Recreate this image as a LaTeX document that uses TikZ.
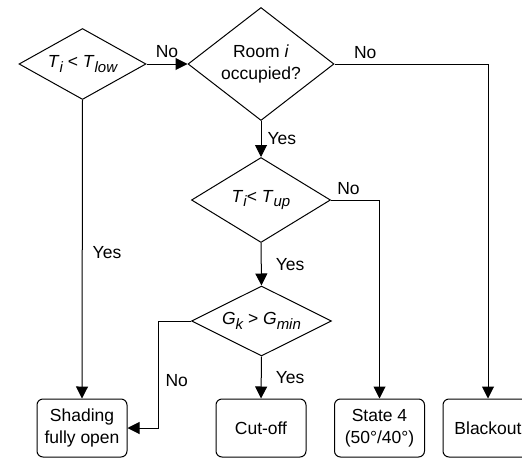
\documentclass[tikz,border=0pt]{standalone}
\usepackage{fontspec}
\setmainfont{Liberation Sans}
\usetikzlibrary{shapes.geometric,arrows.meta}

\newcommand{\lowidx}[1]{\raisebox{-4.5pt}{\fontsize{15}{15}\selectfont\itshape #1}}

\tikzset{
  decision/.style={draw,diamond,aspect=1.7,inner sep=0pt,line width=1pt},
  outcome/.style={draw,rounded corners=6pt,minimum width=90pt,minimum height=58pt,
    align=center,inner sep=1pt,line width=1pt},
  flow/.style={line width=1pt,-{Triangle[length=12pt,width=12pt]}},
  lbl/.style={inner sep=2pt}
}

\begin{document}
\begin{tikzpicture}[x=1pt,y=-1pt,font=\fontsize{17.5}{22}\selectfont]
    \useasboundingbox (0,0) rectangle (522,458);

    \node[decision,minimum width=127pt,minimum height=71pt] (tlow) at (82.5,64)
        {\textit{T}\lowidx{i} < \textit{T}\lowidx{low}};
    \node[decision,minimum width=146pt,minimum height=113pt,align=center] (room) at (261,64)
        {Room \textit{i}\\occupied?};
    \node[decision,minimum width=139pt,minimum height=85pt] (tup) at (261,200)
        {\textit{T}\lowidx{i}< \textit{T}\lowidx{up}};
    \node[decision,minimum width=140pt,minimum height=70pt] (gk) at (261.5,321)
        {\textit{G}\lowidx{k} > \textit{G}\lowidx{min}};

    \node[outcome] (shade) at (82,428) {Shading\\fully open};
    \node[outcome] (cut) at (261,428) {Cut-off};
    \node[outcome] (state) at (379.5,428) {State 4\\(50°/40°)};
    \node[outcome] (black) at (488,428) {Blackout};

    \draw[flow] (tlow.east) -- (room.west)
        node[lbl,midway,above=4pt] {No};
    \draw[flow] (tlow.south) -- (shade.north)
        node[lbl,pos=0.51,right=8pt] {Yes};
    \draw[flow] (room.east) -| (black.north)
        node[lbl,pos=0.1,above=3pt] {No};
    \draw[flow] (room.south) -- (tup.north)
        node[lbl,midway,right=4pt] {Yes};
    \draw[flow] (tup.east) -| (state.north)
        node[lbl,pos=0.18,above=3pt] {No};
    \draw[flow] (tup.south) -- (gk.north)
        node[lbl,pos=0.5,right=12pt] {Yes};
    \draw[flow] (gk.south) -- (cut.north)
        node[lbl,pos=0.5,right=12pt] {Yes};
    \draw[flow] (gk.west) -- ++(-33,0) coordinate (bend)
        |- (shade.east) node[lbl,pos=0.28,right=5pt] {No};
\end{tikzpicture}
\end{document}
